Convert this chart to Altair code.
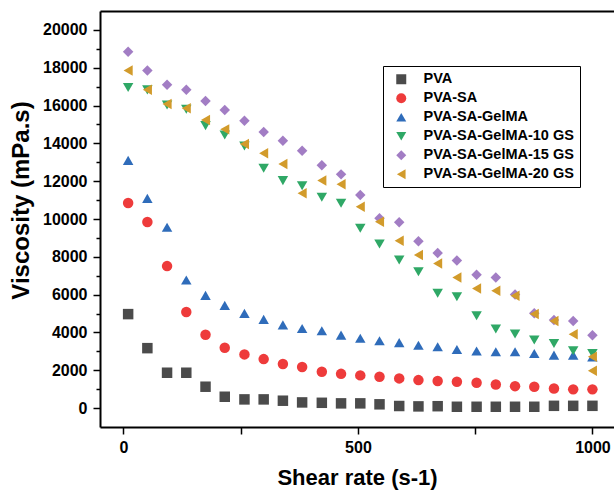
import altair as alt
import pandas as pd

series_names = ["PVA", "PVA-SA", "PVA-SA-GelMA", "PVA-SA-GelMA-10 GS",
                "PVA-SA-GelMA-15 GS", "PVA-SA-GelMA-20 GS"]
colors = ["#4b4b4b", "#ee3b3b", "#2f6cba", "#2fa866", "#a27dc4", "#d29b2b"]
shapes = ["square", "circle", "triangle-up", "triangle-down", "diamond", "triangle-left"]

shear = [10, 51, 93, 134, 175, 216, 258, 299, 340, 381, 423, 464, 505,
         546, 588, 629, 670, 711, 753, 794, 835, 876, 918, 959, 1000]
shear_20gs = shear + [1000]

pva = [4970, 3170, 1870, 1870, 1130, 600, 460, 460, 390, 300, 280, 250, 250,
       200, 110, 90, 100, 70, 70, 70, 70, 70, 120, 120, 120]
pva_sa = [10850, 9840, 7510, 5080, 3880, 3190, 2840, 2590, 2330, 2170, 1920,
          1810, 1730, 1660, 1570, 1480, 1430, 1390, 1340, 1250, 1160, 1130,
          1040, 990, 990]
pva_sa_gelma = [13100, 11090, 9560, 6770, 5960, 5430, 5010, 4690, 4400, 4210,
                4090, 3860, 3690, 3560, 3460, 3320, 3240, 3100, 3020, 2980,
                2980, 2890, 2800, 2800, 2710]
gs10 = [16950, 16830, 16030, 15800, 14940, 14440, 13860, 12680, 12030, 11760,
        11150, 10830, 9510, 8680, 7830, 7210, 6070, 5890, 4880, 4180, 3920,
        3600, 3420, 3030, 2890]
gs15 = [18850, 17850, 17100, 16830, 16240, 15770, 15190, 14600, 14140, 13610,
        12840, 12360, 11270, 10040, 9830, 8820, 8200, 7810, 7050, 6910, 6010,
        5010, 4660, 4600, 3850]
gs20 = [17850, 16830, 16080, 15860, 15240, 14740, 13970, 13480, 12910, 11360,
        12030, 11840, 10650, 9860, 8850, 8100, 7650, 6910, 6330, 6210, 5940,
        4970, 4600, 3900, 2710, 1970]

all_values = [pva, pva_sa, pva_sa_gelma, gs10, gs15, gs20]
all_x = [shear, shear, shear, shear, shear, shear_20gs]

rows = []
for i, (name, xs, ys) in enumerate(zip(series_names, all_x, all_values)):
    for x, y in zip(xs, ys):
        rows.append({"shear": x, "visc": y, "series": name, "order": i})
df = pd.DataFrame(rows)

FONT = "Liberation Sans"
xscale = alt.Scale(domain=[-50, 1046], nice=False, zero=False)
yscale = alt.Scale(domain=[-1000, 21000], nice=False, zero=False)

points = alt.Chart(df).mark_point(filled=True, opacity=1, size=110).encode(
    x=alt.X("shear:Q", scale=xscale,
            axis=alt.Axis(title="Shear rate (s-1)", values=[0, 250, 500, 750, 1000],
                          labelExpr="datum.value % 500 == 0 ? datum.label : ''",
                          format="d", grid=False, domainColor="black", domainWidth=2,
                          tickColor="black", tickWidth=1.5, tickSize=7,
                          labelFont=FONT, labelFontSize=16, labelFontWeight="bold",
                          labelColor="black", labelPadding=5,
                          titleFont=FONT, titleFontSize=22, titleFontWeight="bold",
                          titleColor="black", titlePadding=12)),
    y=alt.Y("visc:Q", scale=yscale,
            axis=alt.Axis(title="Viscosity (mPa.s)",
                          values=list(range(0, 21000, 1000)),
                          labelExpr="datum.value % 2000 == 0 ? datum.label : ''",
                          format="d", grid=False, domainColor="black", domainWidth=2,
                          tickColor="black", tickWidth=1.5,
                          tickSize={"condition": {"test": "datum.value % 2000 != 0", "value": 4}, "value": 7},
                          labelFont=FONT, labelFontSize=16, labelFontWeight="bold",
                          labelColor="black", labelPadding=6,
                          titleFont=FONT, titleFontSize=24, titleFontWeight="bold",
                          titleColor="black", titlePadding=9, titleY=189)),
    color=alt.Color("series:N", scale=alt.Scale(domain=series_names, range=colors),
                    sort=series_names,
                    legend=alt.Legend(title=None, orient="none", legendX=283, legendY=55,
                                      strokeColor="black", padding=6, rowPadding=4,
                                      labelFont=FONT, labelFontSize=14.5,
                                      labelFontWeight="bold", labelColor="black",
                                      symbolSize=100, symbolOffset=5, labelOffset=15,
                                      symbolStrokeWidth=0)),
    shape=alt.Shape("series:N", scale=alt.Scale(domain=series_names, range=shapes),
                    sort=series_names, legend=None),
    order=alt.Order("order:Q"),
)

top_frame = alt.Chart(df).mark_point(opacity=0).encode(
    x=alt.X("shear:Q", scale=xscale,
            axis=alt.Axis(orient="top", labels=False, ticks=False, title=None,
                          grid=False, domainColor="black", domainWidth=2)),
)

chart = alt.layer(points, top_frame).resolve_axis(x="independent").properties(
    width=514, height=416,
    autosize=alt.AutoSizeParams(type="none"),
    padding={"left": 100, "top": 11, "right": 0, "bottom": 67},
    background="white",
).configure_view(stroke=None)

chart.save("out.html", embed_options={"renderer": "svg", "actions": False})
